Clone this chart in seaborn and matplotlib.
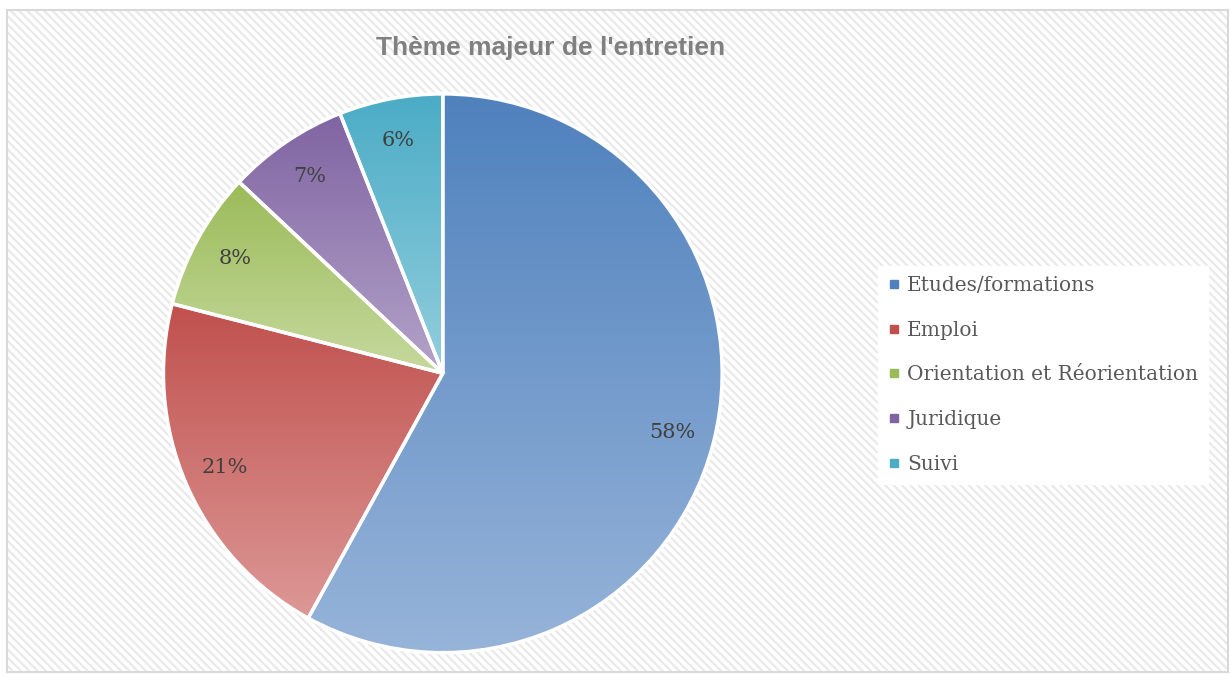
import numpy as np
import matplotlib
matplotlib.use("Agg")
import matplotlib.pyplot as plt
import seaborn as sns
from matplotlib.colors import LinearSegmentedColormap
from matplotlib.patches import Rectangle
from matplotlib.lines import Line2D

# Data
categories = ["Etudes/formations", "Emploi", "Orientation et Réorientation",
              "Juridique", "Suivi"]
shares = [58, 21, 8, 7, 6]
pct_labels = ["58%", "21%", "8%", "7%", "6%"]

# Gradient colours (top -> bottom of each wedge)
top_colors = ["#4F81BD", "#C0504D", "#9BBB59", "#8064A2", "#4BACC6"]
bottom_colors = ["#97B4D9", "#DC9896", "#C6D99E", "#B3A3C9", "#93CEDD"]

sns.set_theme(style="white")
plt.rcParams["font.family"] = ["DejaVu Serif"]
plt.rcParams["hatch.linewidth"] = 1.6

fig = plt.figure(figsize=(12.3, 6.75), dpi=100)
fig.patch.set_facecolor("white")

# Hatched chart-area background + border
W, H = 1230, 675
bg = Rectangle((7 / W, 3 / H), 1221 / W, 662 / H, transform=fig.transFigure,
               facecolor="white", edgecolor="#E9E9E9", hatch="\\\\\\\\",
               linewidth=0, zorder=-10)
fig.patches.append(bg)
border = Rectangle((7 / W, 3 / H), 1221 / W, 662 / H, transform=fig.transFigure,
                   facecolor="none", edgecolor="#D9D9D9", linewidth=1.5, zorder=-9)
fig.patches.append(border)

ax = fig.add_axes([0.134, 0.035, 0.452, 0.824])
ax.set_facecolor("none")

wedges, texts, autotexts = ax.pie(
    shares, startangle=90, counterclock=False, radius=1,
    labels=None, autopct=lambda p: "", pctdistance=0.85,
    wedgeprops=dict(edgecolor="white", linewidth=2.5))

for i, w in enumerate(wedges):
    w.set_facecolor("none")
    path = w.get_path()
    verts = path.vertices
    x0, x1 = verts[:, 0].min(), verts[:, 0].max()
    y0, y1 = verts[:, 1].min(), verts[:, 1].max()
    cmap = LinearSegmentedColormap.from_list(f"g{i}", [bottom_colors[i], top_colors[i]])
    grad = np.linspace(0, 1, 256).reshape(-1, 1)
    im = ax.imshow(grad, cmap=cmap, extent=[x0, x1, y0, y1], origin="lower",
                   aspect="auto", zorder=1, interpolation="bilinear")
    im.set_clip_path(w)
    w.set_zorder(2)

for t, lab in zip(autotexts, pct_labels):
    t.set_text(lab)
    t.set_fontsize(15)
    t.set_color("#404040")
    t.set_zorder(3)

ax.set_xlim(-0.995, 0.995)
ax.set_ylim(-0.995, 0.995)
ax.set_aspect("equal")
ax.axis("off")

fig.text(551 / W, 1 - 48 / H, "Thème majeur de l'entretien", ha="center",
         va="center", fontsize=19, fontweight="bold", color="#808080",
         family=["Liberation Sans", "DejaVu Sans"])

handles = [Line2D([], [], marker="s", linestyle="none", markersize=6,
                  markerfacecolor=c, markeredgecolor=c) for c in top_colors]
leg = fig.legend(handles, categories, loc="center left",
                 bbox_to_anchor=(878 / W, 1 - 375 / H), frameon=True,
                 fontsize=14.5, labelspacing=1.28, handlelength=0.6,
                 handletextpad=0.35, borderpad=0.5, borderaxespad=0)
leg.get_frame().set_facecolor("white")
leg.get_frame().set_edgecolor("white")
leg.get_frame().set_alpha(1)
leg.get_frame().set_boxstyle("square", pad=0)
for txt in leg.get_texts():
    txt.set_color("#595959")

fig.savefig("out.png", dpi=100, facecolor="white")
